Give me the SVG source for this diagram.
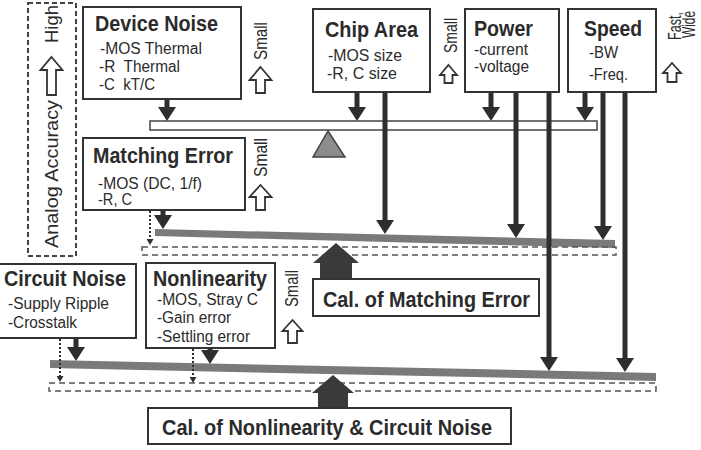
<svg xmlns="http://www.w3.org/2000/svg" width="701" height="450" viewBox="0 0 701 450">
<style>
.box{fill:#fff;stroke:#333;stroke-width:2}
.t{font-family:"Liberation Sans",Arial,sans-serif;font-weight:bold;font-size:22px;fill:#2b2b2b}
.s{font-family:"Liberation Sans",Arial,sans-serif;font-size:16px;fill:#2b2b2b}
.r{font-family:"Liberation Sans",Arial,sans-serif;font-size:19px;fill:#2b2b2b}
.hol{fill:#fff;stroke:#333;stroke-width:1.8;stroke-linejoin:miter}
.ln{stroke:#2e2e30;stroke-width:5;fill:none;marker-end:url(#ah)}
.dt{stroke:#2e2e30;stroke-width:2;stroke-dasharray:2 2;fill:none;marker-end:url(#dh)}
.beam{fill:#7a7a7a}
.dash{fill:none;stroke:#555;stroke-width:1.5;stroke-dasharray:6 4}
.house{fill:#3a3a3c}
</style>
<defs>
<marker id="ah" markerUnits="userSpaceOnUse" markerWidth="14" markerHeight="18" refX="7" refY="9" orient="auto">
<path d="M0,0 L14,9 L0,18 Z" fill="#2e2e30"/>
</marker>
<marker id="dh" markerUnits="userSpaceOnUse" markerWidth="6" markerHeight="7" refX="3" refY="3.5" orient="auto">
<path d="M0,0 L6,3.5 L0,7 Z" fill="#2e2e30"/>
</marker>
</defs>
<rect width="701" height="450" fill="#fff"/>

<!-- axis -->
<g id="accuracy">
<rect x="28" y="3" width="48" height="253" fill="none" stroke="#444" stroke-width="2" stroke-dasharray="5 3"/>
<text class="r" font-size="18" transform="translate(58,248) rotate(-90)" textLength="148" lengthAdjust="spacingAndGlyphs">Analog Accuracy</text>
<path class="hol" d="M51.5,57 L62.5,70 L56,70 L56,95 L47,95 L47,70 L40.5,70 Z"/>
<text class="r" transform="translate(58,43) rotate(-90)" textLength="38" lengthAdjust="spacingAndGlyphs">High</text>
</g>

<!-- beams -->
<g id="beams">
<rect x="150" y="121" width="447" height="9" fill="#fff" stroke="#444" stroke-width="1.5"/>
<path d="M328,131 L345,157 L313,157 Z" fill="#8c8c8c" stroke="#444" stroke-width="1.5"/>
<path class="beam" d="M155,229 L615,240 L615,248 L155,236 Z"/>
<rect class="dash" x="142" y="247" width="474" height="8"/>
<path class="beam" d="M50,360 L656,373 L656,381 L50,368 Z"/>
<rect class="dash" x="49" y="383" width="607" height="8"/>
</g>

<!-- connectors -->
<g id="connectors">
<line class="ln" x1="167" y1="99" x2="167" y2="114"/>
<line class="ln" x1="357" y1="92" x2="357" y2="114"/>
<line class="ln" x1="385" y1="92" x2="385" y2="227"/>
<line class="ln" x1="491" y1="92" x2="491" y2="114"/>
<line class="ln" x1="516" y1="92" x2="516" y2="231"/>
<line class="ln" x1="549" y1="92" x2="549" y2="364"/>
<line class="ln" x1="585" y1="92" x2="585" y2="114"/>
<line class="ln" x1="603" y1="92" x2="603" y2="233"/>
<line class="ln" x1="625" y1="92" x2="625" y2="365"/>
<line class="ln" x1="163" y1="210" x2="163" y2="222"/>
<line class="ln" x1="76" y1="338" x2="76" y2="354"/>
<line class="ln" x1="210" y1="348" x2="210" y2="357"/>
<line class="dt" x1="150" y1="211" x2="150" y2="242"/>
<line class="dt" x1="60" y1="339" x2="60" y2="379"/>
<line class="dt" x1="193" y1="349" x2="193" y2="380"/>
<path class="house" d="M336,243 L359,263 L352,263 L352,279 L320,279 L320,263 L313,263 Z"/>
<path class="house" d="M333,375 L354,393 L348,393 L348,408 L318,408 L318,393 L312,393 Z"/>
</g>

<g id="device-noise">
<rect class="box" x="83" y="7" width="158" height="92"/>
<text class="t" x="95" y="31" textLength="123" lengthAdjust="spacingAndGlyphs">Device Noise</text>
<text class="s" x="100" y="54" textLength="102" lengthAdjust="spacingAndGlyphs">-MOS Thermal</text>
<text class="s" x="99" y="72" textLength="81" lengthAdjust="spacingAndGlyphs" xml:space="preserve">-R  Thermal</text>
<text class="s" x="99" y="90" textLength="56" lengthAdjust="spacingAndGlyphs" xml:space="preserve">-C  kT/C</text>
<text class="r" transform="translate(267,60) rotate(-90)" textLength="38" lengthAdjust="spacingAndGlyphs">Small</text>
<path class="hol" d="M260.5,67 L271.5,80 L265,80 L265,93 L256,93 L256,80 L249.5,80 Z"/>
</g>

<g id="chip-area">
<rect class="box" x="313" y="9" width="117" height="83"/>
<text class="t" x="325" y="37" textLength="93" lengthAdjust="spacingAndGlyphs">Chip Area</text>
<text class="s" x="328" y="61" textLength="74" lengthAdjust="spacingAndGlyphs">-MOS size</text>
<text class="s" x="327" y="79" textLength="70" lengthAdjust="spacingAndGlyphs">-R, C size</text>
<text class="r" transform="translate(457,53) rotate(-90)" textLength="35" lengthAdjust="spacingAndGlyphs">Small</text>
<path class="hol" d="M448.5,65 L457,75 L452.5,75 L452.5,83 L444.5,83 L444.5,75 L440,75 Z"/>
</g>

<g id="power">
<rect class="box" x="465" y="9" width="94" height="83"/>
<text class="t" x="474" y="36" textLength="59" lengthAdjust="spacingAndGlyphs">Power</text>
<text class="s" x="474" y="55" textLength="54" lengthAdjust="spacingAndGlyphs">-current</text>
<text class="s" x="474" y="72" textLength="55" lengthAdjust="spacingAndGlyphs">-voltage</text>
</g>

<g id="speed">
<rect class="box" x="568" y="9" width="88" height="83"/>
<text class="t" x="584" y="36" textLength="58" lengthAdjust="spacingAndGlyphs">Speed</text>
<text class="s" x="589" y="58" textLength="29" lengthAdjust="spacingAndGlyphs">-BW</text>
<text class="s" x="589" y="80" textLength="39" lengthAdjust="spacingAndGlyphs">-Freq.</text>
<text class="r" font-size="14" text-anchor="end" transform="translate(681,12) rotate(-90)" textLength="28" lengthAdjust="spacingAndGlyphs">Fast,</text>
<text class="r" font-size="14" text-anchor="end" transform="translate(695,11) rotate(-90)" textLength="27" lengthAdjust="spacingAndGlyphs">Wide</text>
<path class="hol" d="M672,63 L681,73 L676.5,73 L676.5,82 L667.5,82 L667.5,73 L663,73 Z"/>
</g>

<g id="matching-error">
<rect class="box" x="83" y="138" width="162" height="72"/>
<text class="t" x="93" y="163" textLength="140" lengthAdjust="spacingAndGlyphs">Matching Error</text>
<text class="s" x="98" y="189" textLength="104" lengthAdjust="spacingAndGlyphs">-MOS (DC, 1/f)</text>
<text class="s" x="98" y="205" textLength="34" lengthAdjust="spacingAndGlyphs">-R, C</text>
<text class="r" transform="translate(267,177) rotate(-90)" textLength="39" lengthAdjust="spacingAndGlyphs">Small</text>
<path class="hol" d="M260.5,185 L271.5,197 L265,197 L265,210 L256,210 L256,197 L249.5,197 Z"/>
</g>

<g id="cal-matching">
<rect class="box" x="313" y="279" width="226" height="37"/>
<text class="t" x="323" y="307" textLength="207" lengthAdjust="spacingAndGlyphs">Cal. of Matching Error</text>
</g>

<g id="circuit-noise">
<rect class="box" x="-2" y="264" width="138" height="74"/>
<text class="t" x="4" y="286" textLength="122" lengthAdjust="spacingAndGlyphs">Circuit Noise</text>
<text class="s" x="8" y="309" textLength="101" lengthAdjust="spacingAndGlyphs">-Supply Ripple</text>
<text class="s" x="8" y="328" textLength="69" lengthAdjust="spacingAndGlyphs">-Crosstalk</text>
</g>

<g id="nonlinearity">
<rect class="box" x="146" y="263" width="129" height="85"/>
<text class="t" x="153" y="286" textLength="114" lengthAdjust="spacingAndGlyphs">Nonlinearity</text>
<text class="s" x="157" y="305" textLength="101" lengthAdjust="spacingAndGlyphs">-MOS, Stray C</text>
<text class="s" x="157" y="323" textLength="74" lengthAdjust="spacingAndGlyphs">-Gain error</text>
<text class="s" x="157" y="342" textLength="93" lengthAdjust="spacingAndGlyphs">-Settling error</text>
<text class="r" transform="translate(298,307) rotate(-90)" textLength="37" lengthAdjust="spacingAndGlyphs">Small</text>
<path class="hol" d="M292.5,320 L302.5,331 L297,331 L297,343 L288,343 L288,331 L282.5,331 Z"/>
</g>

<g id="cal-nonlinearity">
<rect class="box" x="148" y="408" width="363" height="36"/>
<text class="t" x="162" y="435" textLength="330" lengthAdjust="spacingAndGlyphs">Cal. of Nonlinearity &amp; Circuit Noise</text>
</g>
</svg>
